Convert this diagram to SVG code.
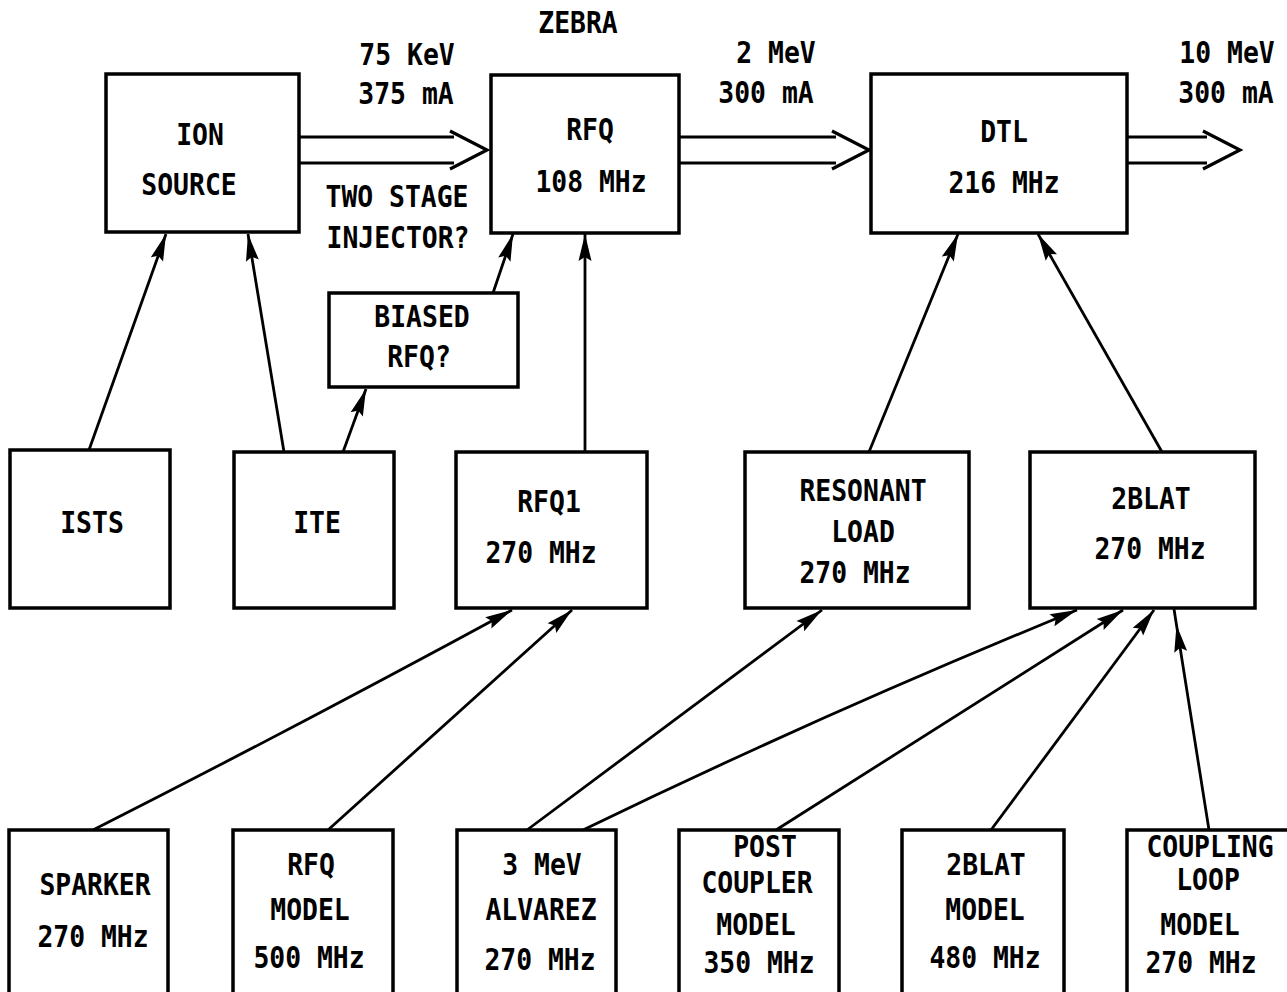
<svg xmlns="http://www.w3.org/2000/svg" width="1287" height="992" viewBox="0 0 1287 992">
<style>
rect.box{fill:#fff;stroke:#000;stroke-width:3.5}
text{font-family:"DejaVu Sans Mono","Liberation Mono",monospace;font-weight:bold;font-size:30px;text-anchor:middle;fill:#000}
.ln{fill:none;stroke:#000;stroke-width:2.8}
.fat{fill:none;stroke:#000;stroke-width:3.2;stroke-linejoin:miter}
</style>
<defs>
<marker id="ah" markerUnits="userSpaceOnUse" markerWidth="32" markerHeight="16" viewBox="-30 -8 32 16" refX="0" refY="0" orient="auto">
<path d="M0,0 L-27,-6.5 L-23,0 L-27,6.5 Z" fill="#000"/>
</marker>
</defs>
<rect width="1287" height="992" fill="#fff"/>

<g id="labels">
<text transform="matrix(.88 0 0 1 578 33)">ZEBRA</text>
<text transform="matrix(.88 0 0 1 407 65)">75 KeV</text>
<text transform="matrix(.88 0 0 1 406 104)">375 mA</text>
<text transform="matrix(.88 0 0 1 776 63)">2 MeV</text>
<text transform="matrix(.88 0 0 1 766 103)">300 mA</text>
<text transform="matrix(.88 0 0 1 1227 63)">10 MeV</text>
<text transform="matrix(.88 0 0 1 1226 103)">300 mA</text>
<text transform="matrix(.88 0 0 1 397 207)">TWO STAGE</text>
<text transform="matrix(.88 0 0 1 398 248)">INJECTOR?</text>
</g>

<g id="ion-source">
<rect class="box" x="106" y="74" width="193" height="158"/>
<text transform="matrix(.88 0 0 1 200 145)">ION</text>
<text transform="matrix(.88 0 0 1 189 195)">SOURCE</text>
</g>

<g id="rfq">
<rect class="box" x="491" y="75" width="188" height="158"/>
<text transform="matrix(.88 0 0 1 590 140)">RFQ</text>
<text transform="matrix(.88 0 0 1 591 192)">108 MHz</text>
</g>

<g id="dtl">
<rect class="box" x="871" y="74" width="256" height="159"/>
<text transform="matrix(.88 0 0 1 1004 142)">DTL</text>
<text transform="matrix(.88 0 0 1 1004 193)">216 MHz</text>
</g>

<g id="biased-rfq">
<rect class="box" x="329" y="293" width="189" height="94"/>
<text transform="matrix(.88 0 0 1 422 327)">BIASED</text>
<text transform="matrix(.88 0 0 1 419 367)">RFQ?</text>
</g>

<g id="ists">
<rect class="box" x="10" y="450" width="160" height="158"/>
<text transform="matrix(.88 0 0 1 92 533)">ISTS</text>
</g>

<g id="ite">
<rect class="box" x="234" y="452" width="160" height="156"/>
<text transform="matrix(.88 0 0 1 317 533)">ITE</text>
</g>

<g id="rfq1">
<rect class="box" x="456" y="452" width="191" height="156"/>
<text transform="matrix(.88 0 0 1 549 512)">RFQ1</text>
<text transform="matrix(.88 0 0 1 541 563)">270 MHz</text>
</g>

<g id="resonant-load">
<rect class="box" x="745" y="452" width="224" height="156"/>
<text transform="matrix(.88 0 0 1 863 501)">RESONANT</text>
<text transform="matrix(.88 0 0 1 863 542)">LOAD</text>
<text transform="matrix(.88 0 0 1 855 583)">270 MHz</text>
</g>

<g id="twoblat">
<rect class="box" x="1030" y="452" width="225" height="156"/>
<text transform="matrix(.88 0 0 1 1151 509)">2BLAT</text>
<text transform="matrix(.88 0 0 1 1150 559)">270 MHz</text>
</g>

<g id="sparker">
<rect class="box" x="9" y="830" width="159" height="170"/>
<text transform="matrix(.88 0 0 1 95 895)">SPARKER</text>
<text transform="matrix(.88 0 0 1 93 947)">270 MHz</text>
</g>

<g id="rfq-model">
<rect class="box" x="233" y="830" width="160" height="170"/>
<text transform="matrix(.88 0 0 1 311 875)">RFQ</text>
<text transform="matrix(.88 0 0 1 310 920)">MODEL</text>
<text transform="matrix(.88 0 0 1 309 968)">500 MHz</text>
</g>

<g id="alvarez">
<rect class="box" x="457" y="830" width="159" height="170"/>
<text transform="matrix(.88 0 0 1 542 875)">3 MeV</text>
<text transform="matrix(.88 0 0 1 541 920)">ALVAREZ</text>
<text transform="matrix(.88 0 0 1 540 970)">270 MHz</text>
</g>

<g id="post-coupler-model">
<rect class="box" x="679" y="830" width="160" height="170"/>
<text transform="matrix(.88 0 0 1 765 857)">POST</text>
<text transform="matrix(.88 0 0 1 757 893)">COUPLER</text>
<text transform="matrix(.88 0 0 1 756 935)">MODEL</text>
<text transform="matrix(.88 0 0 1 759 973)">350 MHz</text>
</g>

<g id="twoblat-model">
<rect class="box" x="902" y="830" width="162" height="170"/>
<text transform="matrix(.88 0 0 1 986 875)">2BLAT</text>
<text transform="matrix(.88 0 0 1 985 920)">MODEL</text>
<text transform="matrix(.88 0 0 1 985 968)">480 MHz</text>
</g>

<g id="coupling-loop-model">
<rect class="box" x="1127" y="830" width="170" height="170"/>
<text transform="matrix(.88 0 0 1 1210 857)">COUPLING</text>
<text transform="matrix(.88 0 0 1 1208 890)">LOOP</text>
<text transform="matrix(.88 0 0 1 1200 935)">MODEL</text>
<text transform="matrix(.88 0 0 1 1201 973)">270 MHz</text>
</g>

<g id="connectors">
<path class="fat" d="M299,137 H454 M450,131 L487,150 L450,169 M299,163 H454"/>
<path class="fat" d="M679,137 H836 M832,131 L869,150 L832,169 M679,163 H836"/>
<path class="fat" d="M1127,137 H1207 M1203,131 L1240,150 L1203,169 M1127,163 H1207"/>
<line class="ln" x1="89" y1="450" x2="166" y2="234" marker-end="url(#ah)"/>
<line class="ln" x1="284" y1="452" x2="248" y2="234" marker-end="url(#ah)"/>
<line class="ln" x1="343" y1="452" x2="366" y2="389" marker-end="url(#ah)"/>
<line class="ln" x1="493" y1="293" x2="513" y2="234" marker-end="url(#ah)"/>
<line class="ln" x1="585" y1="452" x2="585" y2="234" marker-end="url(#ah)"/>
<line class="ln" x1="869" y1="452" x2="958" y2="234" marker-end="url(#ah)"/>
<line class="ln" x1="1162" y1="452" x2="1038" y2="234" marker-end="url(#ah)"/>
<path class="ln" d="M93,830 Q300,725 512,610" marker-end="url(#ah)"/>
<line class="ln" x1="328" y1="830" x2="572" y2="610" marker-end="url(#ah)"/>
<line class="ln" x1="527" y1="830" x2="822" y2="610" marker-end="url(#ah)"/>
<path class="ln" d="M583,830 Q820,715 1077,610" marker-end="url(#ah)"/>
<line class="ln" x1="776" y1="830" x2="1123" y2="610" marker-end="url(#ah)"/>
<line class="ln" x1="991" y1="830" x2="1154" y2="610" marker-end="url(#ah)"/>
<polyline class="ln" points="1209,830 1176.5,625 1174,609" marker-mid="url(#ah)"/>
</g>
</svg>
